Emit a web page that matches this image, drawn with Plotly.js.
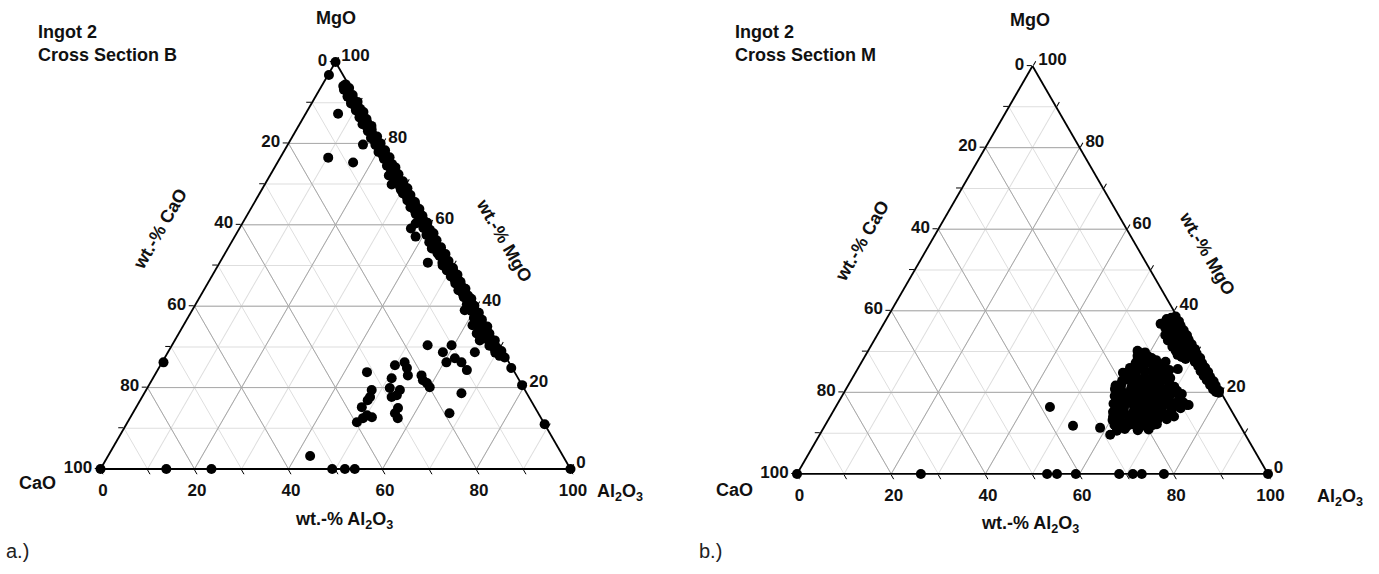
<!DOCTYPE html>
<html>
<head>
<meta charset="utf-8">
<script src="https://cdn.plot.ly/plotly-3.0.1.min.js"></script>
<style>
html,body{margin:0;padding:0;background:#fff;}
#chart{width:1379px;height:574px;}
</style>
</head>
<body>
<div id="chart"></div>
<script>
// ---------- DATA (wt.-%: [MgO, CaO, Al2O3]) ----------
// Ingot 2, Cross Section B
const sectionB_join = [
 [94.5,0.6,4.9],[93.6,0.3,6.1],[92.8,0.9,6.3],[91.9,0.4,7.7],[91.1,0.8,8.1],[90.2,0.2,9.6],[89.4,1.0,9.6],
 [88.5,0.5,11.0],[87.7,0.2,12.1],[86.8,0.9,12.3],[86.0,0.4,13.6],[85.1,0.7,14.2],[84.3,0.2,15.5],[83.4,0.6,16.0],
 [82.6,1.1,16.3],[81.7,0.3,18.0],[80.9,0.8,18.3],[80.0,0.4,19.6],[79.2,0.9,19.9],[78.3,0.3,21.4],[77.5,0.7,21.8],
 [76.6,0.2,23.2],[75.8,1.0,23.2],[74.9,0.5,24.6],[74.1,0.2,25.7],[73.2,0.8,26.0],[72.4,0.4,27.2],[71.5,0.9,27.6],
 [70.7,0.3,29.0],[69.8,0.6,29.6],[69.0,0.2,30.8],[68.1,1.0,30.9],[67.3,0.4,32.3],[66.4,0.8,32.8],[65.6,0.3,34.1],
 [64.7,0.6,34.7],[63.9,0.2,35.9],[63.0,0.9,36.1],[62.2,0.4,37.4],[61.3,0.7,38.0],[60.5,0.2,39.3],[59.6,1.0,39.4],
 [58.8,0.5,40.7],[57.9,0.2,41.9],[57.1,0.8,42.1],[56.2,0.4,43.4],[55.4,1.2,43.4],[54.5,0.3,45.2],[53.7,0.7,45.6],
 [52.8,0.2,47.0],[52.0,0.9,47.1],[51.1,0.4,48.5],[50.3,0.8,48.9],[49.4,0.3,50.3],[48.6,0.6,50.8],[47.7,0.2,52.1],
 [46.9,0.9,52.2],[46.0,0.4,53.6],[45.2,0.7,54.1],[44.3,0.2,55.5],[43.5,1.0,55.5],[42.6,0.5,56.9],[41.8,0.2,58.0],
 [40.9,0.8,58.3],[40.1,0.4,59.5],[39.2,0.9,59.9],[38.4,0.3,61.3],[37.5,1.3,61.2],[36.7,0.5,62.8],[35.8,1.6,62.6],
 [35.0,0.2,64.8],[34.1,1.1,64.8],[33.3,0.6,66.1],[32.4,1.9,65.7],[31.6,0.3,68.1],[30.7,1.4,67.9],[29.9,0.8,69.3],
 [29.0,0.2,70.8],[28.2,0.7,71.1],[27.4,0.3,72.3],[24.8,0.2,75.0],[20.6,0.0,79.4],[11.0,0.0,89.0],
 [94.1,1.3,4.6],[93.2,1.6,5.2],[92.3,1.2,6.5],[91.5,1.7,6.8],[90.6,1.4,8.0],[89.8,1.8,8.4],[88.9,1.3,9.8],
 [88.1,1.6,10.3],[87.2,1.2,11.6],[86.4,1.7,11.9],[85.5,1.4,13.1],[84.7,1.9,13.4],[83.8,1.3,14.9],[83.0,1.6,15.4],
 [82.1,1.2,16.7],[81.3,1.8,16.9],[80.4,1.4,18.2],[79.6,1.7,18.7],[78.7,1.3,20.0],[77.9,1.9,20.2],[77.0,1.4,21.6],
 [76.2,1.6,22.2],[75.3,1.2,23.5],[74.5,1.8,23.7],[73.6,1.4,25.0],[72.8,1.7,25.5],[71.9,1.3,26.8],[71.1,1.9,27.0],
 [70.2,1.4,28.4],[69.4,1.6,29.0],[68.5,1.2,30.3],[67.7,1.8,30.5],[66.8,1.4,31.8],[66.0,1.7,32.3],[65.1,1.3,33.6],
 [64.3,1.9,33.8],[63.4,1.4,35.2],[62.6,1.6,35.8],[61.7,1.2,37.1],[60.9,1.8,37.3],[60.0,1.4,38.6],[59.2,1.7,39.1],
 [58.3,1.3,40.4],[57.5,1.9,40.6],[56.6,1.4,42.0],[55.8,1.6,42.6],[54.9,1.2,43.9],[54.1,1.8,44.1],[53.2,1.4,45.4],
 [52.4,1.7,45.9],[51.5,1.3,47.2],[50.7,1.9,47.4],[49.8,1.4,48.8],[49.0,1.6,49.4],[48.1,1.2,50.7],[47.3,1.8,50.9],
 [46.4,1.4,52.2],[45.6,1.7,52.7],[44.7,1.3,54.0],[43.9,1.9,54.2],[43.0,1.4,55.6],[42.2,1.6,56.2],[41.3,1.2,57.5],
 [40.5,1.8,57.7],[39.6,1.4,59.0],[38.8,1.7,59.5],[37.9,1.3,60.8],[37.1,2.0,60.9],[36.2,1.4,62.4],[35.4,2.1,62.5],
 [34.5,1.5,64.0],[33.7,2.2,64.1],[32.8,1.3,65.9],[32.0,2.0,66.0],[31.1,1.6,67.3],[30.3,2.1,67.6],[29.4,1.4,69.2],
 [28.6,1.7,69.7],[27.8,1.2,71.0]
];
const sectionB_inclusions = [
 [100,0,0],[96.8,3.0,0.2],[87.3,5.8,6.9],[79.7,4.3,16.0],[76.5,13.3,10.2],[75.3,8.6,16.1],
 [72.1,2.6,25.3],[69.9,3.1,27.0],[68.6,1.8,29.6],[60.3,2.8,36.9],[59.1,4.4,36.5],[57.1,4.4,38.5],
 [55.7,2.2,42.1],[54.2,2.4,43.4],[53.0,1.8,45.2],[50.7,5.0,44.3],[50.0,2.2,47.8],[48.8,1.9,49.3],
 [39.0,3.0,58.0],[35.3,3.2,61.5],[33.3,3.3,63.4],[32.1,2.9,65.0],[33.6,1.0,65.4],[31.6,3.5,64.9],
 [34.5,2.2,63.3],[36.2,1.8,62.0],[28.7,6.0,65.3],[30.4,10.1,59.5],[28.7,12.8,58.5],[26.2,13.3,60.5],
 [27.2,11.0,61.8],[26.2,10.1,63.7],[24.3,9.9,65.8],[30.4,15.2,54.4],[23.0,20.2,56.8],[21.8,20.5,57.7],
 [21.1,20.0,58.9],[20.1,19.9,60.0],[18.6,13.9,67.5],[13.7,18.9,67.4],[26.2,22.2,51.6],[25.5,24.6,49.9],
 [24.8,22.4,52.8],[23.0,23.1,53.9],[22.3,26.9,50.8],[19.9,28.5,51.6],[19.4,26.6,54.0],[17.7,29.2,53.1],
 [18.1,27.9,54.0],[15.0,29.2,55.8],[13.7,30.5,55.8],[12.5,30.5,57.0],[23.8,31.4,44.8],[19.4,32.6,48.0],
 [17.7,33.8,48.5],[16.9,34.7,48.4],[15.2,36.8,48.0],[13.2,36.7,50.1],[11.5,39.7,48.8],[12.5,37.9,49.6],
 [12.7,35.9,51.4],[3.2,53.8,43.0],[26.2,73.5,0.3]
];
const sectionB_baseline = [
 [0,100,0],[0,86.0,14.0],[0,76.4,23.6],[0,50.7,49.3],[0,48.0,52.0],[0,45.9,54.1],[0,0,100]
];

// Ingot 2, Cross Section M
const sectionM_join = [
 [38.6,0.3,61.1],[38.0,0.8,61.2],[37.4,0.2,62.4],[36.9,0.9,62.2],[36.3,0.4,63.3],[35.7,1.0,63.3],[35.2,0.3,64.5],
 [34.6,0.7,64.7],[34.0,0.2,65.8],[33.5,0.9,65.6],[32.9,0.4,66.7],[32.3,0.8,66.9],[31.8,0.3,67.9],[31.2,0.6,68.2],
 [30.6,0.2,69.2],[30.1,0.9,69.0],[29.5,0.4,70.1],[28.9,0.7,70.4],[28.4,0.2,71.4],[27.8,0.8,71.4],[27.2,0.4,72.4],
 [26.7,0.9,72.4],[26.1,0.3,73.6],[25.5,0.6,73.9],[25.0,0.2,74.8],[24.4,0.8,74.8],[23.8,0.4,75.8],[23.3,0.7,76.0],
 [22.7,0.2,77.1],[22.1,0.6,77.3],[21.6,0.3,78.1],[21.0,0.7,78.3],[20.4,0.2,79.4],[19.9,0.5,79.6],
 [38.3,1.4,60.3],[37.7,1.7,60.6],[37.1,1.3,61.6],[36.6,1.8,61.6],[36.0,1.4,62.6],[35.4,1.6,63.0],[34.9,1.2,63.9],
 [34.3,1.8,63.9],[33.7,1.4,64.9],[33.2,1.7,65.1],[32.6,1.3,66.1],[32.0,1.8,66.2],[31.5,1.4,67.1],[30.9,1.6,67.5],
 [30.3,1.2,68.5],[29.8,1.8,68.4],[29.2,1.4,69.4],[28.6,1.7,69.7],[28.1,1.3,70.6],[27.5,1.8,70.7],[26.9,1.4,71.7],
 [26.4,1.6,72.0],[25.8,1.2,73.0],[25.2,1.7,73.1],[24.7,1.3,74.0],[24.1,1.6,74.3],[23.5,1.2,75.3],[23.0,1.5,75.5],
 [22.4,1.1,76.5],[21.8,1.4,76.8],[21.3,1.1,77.6],[20.7,1.3,78.0],[20.1,1.0,78.9],
 [38.0,2.5,59.5],[37.2,3.3,59.5],[36.4,2.4,61.2],[35.8,3.9,60.3],[35.1,2.9,62.0],[34.5,4.3,61.2],[33.7,3.2,63.1],
 [33.0,4.4,62.6],[32.4,3.1,64.5],[31.7,4.2,64.1],[30.9,3.5,65.6],[30.2,4.5,65.3],[29.6,3.8,66.6],[28.7,4.0,67.3],
 [28.2,3.4,68.4],[36.8,4.4,58.8],[34.0,4.8,61.2],[31.2,4.7,64.1],[29.2,4.6,66.2],[32.7,4.9,62.4]
];
const sectionM_inclusions = [
 [29.5,12.0,58.5],[28.8,11.0,60.2],[29.0,13.2,57.8],[28.4,10.5,61.1],[28.2,12.4,59.4],
 [27.2,14.5,58.3],[26.8,12.8,60.4],[26.5,11.0,62.5],[26.9,9.0,64.1],[26.1,15.2,58.7],[25.8,13.5,60.7],
 [25.5,8.2,66.3],[26.3,10.2,63.5],[25.2,12.0,62.8],[27.5,8.0,64.5],
 [24.3,18.0,57.7],[24.0,16.2,59.8],[23.6,14.5,61.9],[23.8,12.6,63.6],[23.2,10.5,66.3],[23.5,9.0,67.5],
 [24.5,11.5,64.0],[22.8,17.2,60.0],[22.6,15.5,61.9],[23.0,13.3,63.7],[22.5,11.8,65.7],[22.9,19.5,57.6],
 [21.5,20.5,58.0],[21.2,18.4,60.4],[21.0,16.6,62.4],[20.8,14.8,64.4],[20.5,12.9,66.6],[20.9,11.0,68.1],
 [21.4,9.2,69.4],[20.2,21.6,58.2],[19.8,19.2,61.0],[19.9,17.5,62.6],[19.5,15.5,65.0],[19.7,13.4,66.9],
 [19.3,11.6,69.1],[20.1,10.0,69.9],[19.6,8.5,71.9],[21.6,13.8,64.6],[20.6,16.0,63.4],
 [18.4,23.0,58.6],[18.1,21.0,60.9],[17.8,19.0,63.2],[18.2,17.3,64.5],[17.6,15.4,67.0],[17.9,13.6,68.5],
 [17.4,11.8,70.8],[17.7,10.0,72.3],[16.9,8.4,74.7],[17.2,24.2,58.6],[16.8,22.1,61.1],[16.5,20.2,63.3],
 [16.9,18.3,64.8],[16.4,16.5,67.1],[16.6,14.2,69.2],[16.2,12.5,71.3],[18.6,15.0,66.4],
 [15.2,25.3,59.5],[14.8,23.4,61.8],[15.0,21.2,63.8],[14.6,19.4,66.0],[14.9,17.1,68.0],[14.4,15.3,70.3],
 [14.7,13.5,71.8],[15.4,18.6,66.0],[14.2,24.9,60.9],[13.9,21.5,64.6],[13.6,18.0,68.4],[14.1,12.9,73.0],
 [12.3,25.8,61.9],[12.0,23.5,64.5],[12.4,21.2,66.4],[11.8,19.2,69.0],[12.2,17.5,70.3],[11.5,24.4,64.1],
 [11.2,21.8,67.0],
 [27.9,9.8,62.3],[27.7,11.9,60.4],[28.0,13.7,58.3],
 [25.1,9.6,65.3],[24.9,11.7,63.4],[25.2,13.5,61.3],[24.8,15.6,59.6],[25.0,17.1,57.9],
 [22.1,9.9,68.0],[21.9,12.0,66.1],[22.2,13.8,64.0],[21.8,15.9,62.3],[22.0,17.8,60.2],[22.3,19.9,57.8],[21.7,21.5,56.8],
 [19.0,9.4,71.6],[19.2,11.3,69.5],[18.9,13.2,67.9],[19.1,15.4,65.5],[18.8,17.3,63.9],[19.0,19.4,61.6],[18.7,21.3,60.0],[19.1,23.0,57.9],
 [16.1,10.5,73.4],[15.9,12.4,71.7],[16.0,14.6,69.4],[15.8,16.4,67.8],[16.1,18.6,65.3],[15.7,20.5,63.8],[16.0,22.6,61.4],[15.9,24.4,59.7],
 [13.4,14.8,71.8],[13.2,16.9,69.9],[13.5,18.8,67.7],[13.1,20.7,66.2],[13.3,22.9,63.8],[13.0,24.8,62.2],[13.2,26.4,60.4],
 [10.9,19.9,69.2],[10.7,22.3,67.0],[11.0,24.9,64.1],[10.6,26.8,62.6],
 [29.8,11.2,59.0],[30.2,12.6,57.2],
 [26.0,9.4,64.6],[25.9,11.4,62.7],[26.2,13.9,59.9],[26.0,16.3,57.7],
 [23.3,9.7,67.0],[23.4,11.4,65.2],[23.1,13.9,63.0],[23.3,15.9,60.8],[23.2,18.3,58.5],
 [20.4,9.1,70.5],[20.3,11.8,67.9],[20.5,14.0,65.5],[20.2,16.9,62.9],[20.4,19.0,60.6],[20.3,20.9,58.8],
 [17.5,9.2,73.3],[17.4,11.0,71.6],[17.3,12.9,69.8],[17.5,14.9,67.6],[17.3,16.9,65.8],[17.4,18.6,64.0],[17.5,20.6,61.9],[17.2,22.6,60.2],
 [14.6,14.1,71.3],[14.5,16.3,69.2],[14.3,18.2,67.5],[14.5,20.4,65.1],[14.3,22.3,63.4],[14.5,24.1,61.4],
 [12.0,18.4,69.6],[11.9,20.3,67.8],[12.1,22.4,65.5],[11.8,24.7,63.5],[12.0,26.6,61.4],
 [11.8,35.5,52.7],[16.4,38.1,45.5],[11.3,30.0,58.7],[9.6,28.7,61.7],[24.8,18.4,56.8],[20.8,22.1,57.1],
 [14.0,25.9,60.1],[25.7,6.3,68.0],[16.9,8.8,74.3],[12.3,20.5,67.2],[11.5,24.6,63.9]
];
const sectionM_baseline = [
 [0,100,0],[0,73.7,26.3],[0,46.9,53.1],[0,44.8,55.2],[0,40.8,59.2],[0,31.6,68.4],[0,28.7,71.3],
 [0,26.8,73.2],[0,22.1,77.9],[0,0,100]
];

// axis ticks
const tickValues = [0,10,20,30,40,50,60,70,80,90,100];
const labelledTicks = [0,20,40,60,80,100];
const majorGrid = [20,40,60,80];

// ---------- BUILD ----------
const W = 1379, H = 574;
const px = x => x / W;
const py = y => 1 - y / H;

function col(arr, i){ return arr.map(r => r[i]); }
function pointsTrace(groups, subplot, name){
  const all = [].concat(...groups);
  return {
    type:'scatterternary', mode:'markers', subplot:subplot, name:name,
    a: col(all,0), b: col(all,1), c: col(all,2),
    marker:{color:'#000', size:10, line:{width:0}},
    cliponaxis:false, showlegend:false,
    hovertemplate:'MgO %{a:.1f}<br>CaO %{b:.1f}<br>Al2O3 %{c:.1f}<extra></extra>'
  };
}
function majorGridTrace(subplot){
  const a=[], b=[], c=[];
  majorGrid.forEach(v => {
    a.push(v, v, null); b.push(100-v, 0, null); c.push(0, 100-v, null);
    b.push(v, v, null); a.push(100-v, 0, null); c.push(0, 100-v, null);
    c.push(v, v, null); a.push(100-v, 0, null); b.push(0, 100-v, null);
  });
  return {type:'scatterternary', mode:'lines', subplot:subplot, a:a, b:b, c:c,
          line:{color:'#a8a8a8', width:1}, hoverinfo:'skip', showlegend:false, connectgaps:false};
}

function axis(){
  return {
    tickmode:'array', tickvals:tickValues,
    ticktext: tickValues.map(v => labelledTicks.includes(v) ? String(100 - v) : ' '),
    ticks:'outside', ticklen:5, tickwidth:1.2, tickcolor:'#000',
    showline:true, linecolor:'#000', linewidth:1.8,
    showgrid:true, gridcolor:'#dedede', gridwidth:1,
    tickfont:{family:'Liberation Sans, Arial, sans-serif', size:17, color:'#111', weight:'bold'},
    title:{text:''}, min:0
  };
}
function ternary(x0,x1,yTop,yBot){
  return {sum:100, bgcolor:'rgba(0,0,0,0)',
    domain:{x:[px(x0),px(x1)], y:[py(yBot),py(yTop)]},
    aaxis:axis(), baxis:axis(), caxis:axis()};
}

function ann(text,x,y,opts){
  return Object.assign({text:text, x:px(x), y:py(y), xref:'paper', yref:'paper',
    showarrow:false, xanchor:'center', yanchor:'middle',
    font:{family:'Liberation Sans, Arial, sans-serif', size:18, color:'#111', weight:'bold'}}, opts||{});
}
const Al2O3 = 'Al<sub>2</sub>O<sub>3</sub>';
const annotations = [
  // panel a
  ann('Ingot 2<br>Cross Section B', 36, 20, {xanchor:'left', yanchor:'top', align:'left'}),
  ann('MgO', 336, 18),
  ann('CaO', 37, 483),
  ann(Al2O3, 620, 492),
  ann('wt.-% CaO', 160, 229, {textangle:-60}),
  ann('wt.-% MgO', 504, 240, {textangle:60}),
  ann('wt.-% ' + Al2O3, 344, 520),
  ann('a.)', 4, 551, {xanchor:'left', font:{family:'Liberation Sans, Arial, sans-serif', size:20, color:'#222'}}),
  // panel b
  ann('Ingot 2<br>Cross Section M', 733, 20, {xanchor:'left', yanchor:'top', align:'left'}),
  ann('MgO', 1030, 20),
  ann('CaO', 734, 490),
  ann(Al2O3, 1340, 497),
  ann('wt.-% CaO', 862, 241, {textangle:-60}),
  ann('wt.-% MgO', 1207, 253, {textangle:60}),
  ann('wt.-% ' + Al2O3, 1030, 524),
  ann('b.)', 697, 551, {xanchor:'left', font:{family:'Liberation Sans, Arial, sans-serif', size:20, color:'#222'}})
];

const data = [
  majorGridTrace('ternary'),
  majorGridTrace('ternary2'),
  pointsTrace([sectionB_join, sectionB_inclusions, sectionB_baseline], 'ternary', 'Cross Section B'),
  pointsTrace([sectionM_join, sectionM_inclusions, sectionM_baseline], 'ternary2', 'Cross Section M')
];

const layout = {
  width:W, height:H, margin:{l:0,r:0,t:0,b:0},
  paper_bgcolor:'#fff', showlegend:false,
  font:{family:'Liberation Sans, Arial, sans-serif', size:18},
  ternary: ternary(100, 571, 62, 469),
  ternary2: ternary(797, 1268, 66, 474),
  annotations: annotations
};

Plotly.newPlot('chart', data, layout, {displayModeBar:false});
</script>
</body>
</html>
